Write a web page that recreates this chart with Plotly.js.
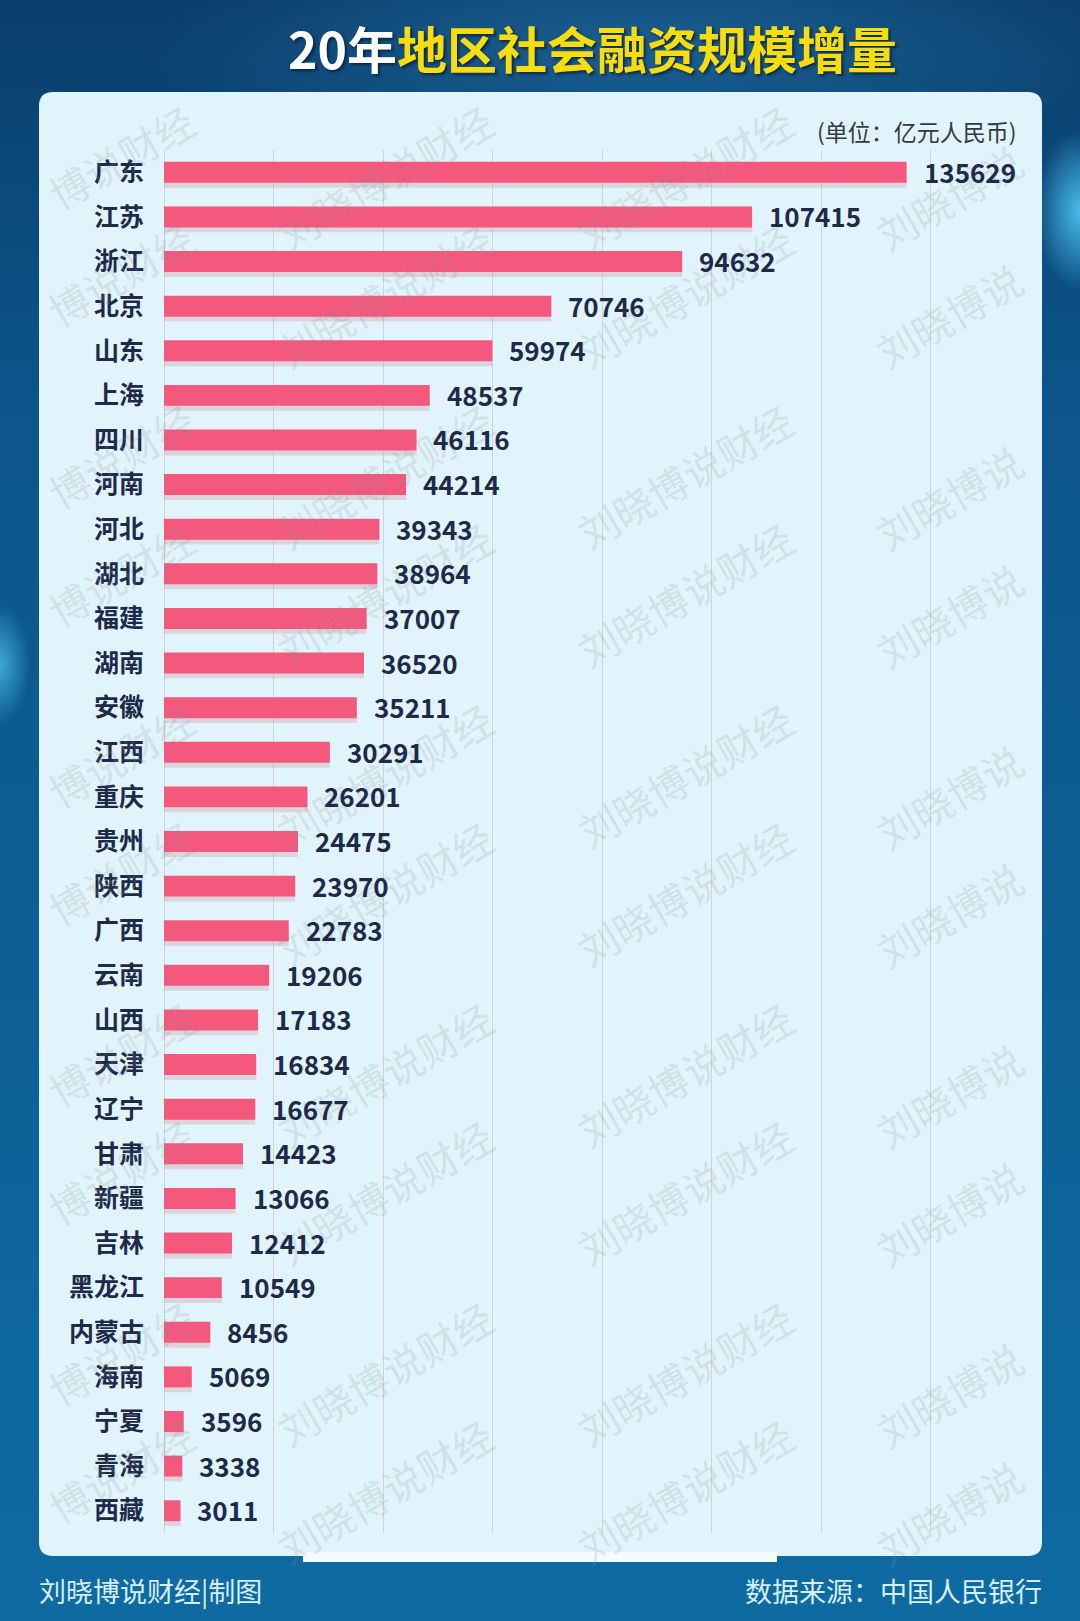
<!DOCTYPE html>
<html>
<head>
<meta charset="utf-8">
<script src="https://cdn.plot.ly/plotly-3.0.1.min.js"></script>
<style>
  html, body { margin: 0; padding: 0; }
  body {
    width: 1080px; height: 1621px; overflow: hidden;
    background:
      radial-gradient(ellipse 45px 80px at 100% 13%, rgba(80,200,245,0.9), rgba(80,200,245,0) 100%),
      radial-gradient(ellipse 30px 60px at 0% 41%, rgba(80,200,245,0.7), rgba(80,200,245,0) 100%),
      radial-gradient(ellipse 500px 120px at 60% 3%, rgba(40,120,175,0.55), rgba(40,120,175,0) 100%),
      linear-gradient(180deg, #0a3f6c 0%, #0c558a 25%, #0d6095 60%, #0e6ba2 100%);
  }
  #chart { width: 1080px; height: 1621px; }
</style>
</head>
<body>
<div id="chart"></div>
<script>
// ---------------- data ----------------
const regions = ['广东','江苏','浙江','北京','山东','上海','四川','河南','河北','湖北','福建','湖南','安徽','江西','重庆','贵州','陕西','广西','云南','山西','天津','辽宁','甘肃','新疆','吉林','黑龙江','内蒙古','海南','宁夏','青海','西藏'];
const values = [135629,107415,94632,70746,59974,48537,46116,44214,39343,38964,37007,36520,35211,30291,26201,24475,23970,22783,19206,17183,16834,16677,14423,13066,12412,10549,8456,5069,3596,3338,3011];
const gridTicks = [0,20000,40000,60000,80000,100000,120000,140000];
const titleWhite = '20年';
const titleYellow = '地区社会融资规模增量';
const unitText = '(单位：亿元人民币)';
const creditText = '刘晓博说财经|制图';
const sourceText = '数据来源：中国人民银行';
const watermarkText = '刘晓博说财经';

// ---------------- geometry helpers ----------------
const W = 1080, H = 1621;
const M = {l: 164, r: 40, t: 150, b: 88};
const PW = W - M.l - M.r, PH = H - M.t - M.b;
const px = x => (x - M.l) / PW;          // pixel x -> paper x
const py = y => (H - M.b - y) / PH;      // pixel y -> paper y

function roundRect(x0, y0, x1, y1, r) {
  const P = (x, y) => px(x).toFixed(5) + ',' + py(y).toFixed(5);
  return 'M' + P(x0 + r, y0) + ' L' + P(x1 - r, y0) + ' Q' + P(x1, y0) + ' ' + P(x1, y0 + r) +
         ' L' + P(x1, y1 - r) + ' Q' + P(x1, y1) + ' ' + P(x1 - r, y1) +
         ' L' + P(x0 + r, y1) + ' Q' + P(x0, y1) + ' ' + P(x0, y1 - r) +
         ' L' + P(x0, y0 + r) + ' Q' + P(x0, y0) + ' ' + P(x0 + r, y0) + ' Z';
}

const FONT = '"Noto Sans CJK SC", "Noto Sans", sans-serif';
const NAVY = '#1d2a4a';

// ---------------- traces ----------------
const shadow = {
  type: 'bar', orientation: 'h', y: regions, x: values,
  width: 0.47, offset: -0.235 + 0.11,
  marker: {color: 'rgba(205,165,180,0.40)', line: {width: 0}},
  hoverinfo: 'skip', showlegend: false
};
const bars = {
  type: 'bar', orientation: 'h', y: regions, x: values,
  width: 0.47, offset: -0.235,
  marker: {color: '#f4587d', line: {width: 0}},
  hoverinfo: 'x+y', showlegend: false
};

// ---------------- annotations ----------------
const annotations = [];

// watermarks (tiled in pairs of rows)
const wmCols = [85, 385, 685, 985];
const wmRows = [];
for (let k = 0; k <= 4; k++) { wmRows.push(177 + 299 * k); wmRows.push(295 + 299 * k); }
const ang = 30 * Math.PI / 180, charW = 41;
wmRows.forEach(cy => {
  wmCols.forEach((cx, ci) => {
    let text = watermarkText, x = cx, y = cy;
    if (ci === 0) { text = watermarkText.slice(2); x += charW * Math.cos(ang); y -= charW * Math.sin(ang); }
    if (ci === 3) { text = watermarkText.slice(0, 4); x -= charW * Math.cos(ang); y += charW * Math.sin(ang); }
    annotations.push({
      xref: 'paper', yref: 'paper', x: px(x), y: py(y), xanchor: 'center', yanchor: 'middle',
      text: text, textangle: -30, showarrow: false,
      font: {family: FONT, size: 40, color: 'rgba(140,145,150,0.2)'}
    });
  });
});

// value labels
regions.forEach((r, i) => {
  annotations.push({
    xref: 'x', yref: 'y', x: values[i], y: r, xanchor: 'left', yanchor: 'middle',
    xshift: 15, yshift: 1, text: String(values[i]), showarrow: false,
    font: {family: FONT, size: 26, color: NAVY, weight: 'bold'}
  });
});

// title
annotations.push({
  xref: 'paper', yref: 'paper', x: px(592), y: py(47), xanchor: 'center', yanchor: 'middle',
  text: '<span style="color:#ffffff">' + titleWhite + '</span>' + titleYellow,
  showarrow: false,
  font: {family: FONT, size: 50, color: '#f7dc0e', weight: 'bold', shadow: '2px 2px 3px rgba(10,30,60,0.85)'}
});
// unit
annotations.push({
  xref: 'paper', yref: 'paper', x: px(1019), y: py(131), xanchor: 'right', yanchor: 'middle',
  text: unitText, showarrow: false,
  font: {family: FONT, size: 23, color: '#333a44'}
});
// footer
annotations.push({
  xref: 'paper', yref: 'paper', x: px(37), y: py(1590), xanchor: 'left', yanchor: 'middle',
  text: creditText, showarrow: false,
  font: {family: FONT, size: 27, color: '#d6eef8'}
});
annotations.push({
  xref: 'paper', yref: 'paper', x: px(1044), y: py(1590), xanchor: 'right', yanchor: 'middle',
  text: sourceText, showarrow: false,
  font: {family: FONT, size: 27, color: '#d6eef8'}
});

// ---------------- shapes ----------------
const shapes = [
  {type: 'path', xref: 'paper', yref: 'paper', layer: 'below',
   path: roundRect(39, 92, 1042, 1556, 14),
   fillcolor: '#e2f4fb', line: {width: 0}},
  {type: 'rect', xref: 'paper', yref: 'paper', layer: 'below',
   x0: px(303), x1: px(777), y0: py(1552), y1: py(1562),
   fillcolor: '#f4fbfe', line: {width: 0}}
];

const layout = {
  width: W, height: H,
  margin: M,
  paper_bgcolor: 'rgba(0,0,0,0)',
  plot_bgcolor: 'rgba(0,0,0,0)',
  barmode: 'overlay',
  showlegend: false,
  font: {family: FONT},
  xaxis: {
    range: [0, 160000], tickvals: gridTicks, showticklabels: false,
    showgrid: true, gridcolor: '#d0d3d6', gridwidth: 1,
    zeroline: true, zerolinecolor: '#d0d3d6', zerolinewidth: 1,
    showline: false, ticks: '', fixedrange: true
  },
  yaxis: {
    type: 'category', autorange: 'reversed',
    tickfont: {family: FONT, size: 25, color: NAVY, weight: 'bold'},
    ticks: '', ticklabelstandoff: 19, showgrid: false, zeroline: false, showline: false,
    fixedrange: true
  },
  shapes: shapes,
  annotations: annotations
};

Plotly.newPlot('chart', [shadow, bars], layout, {displayModeBar: false, staticPlot: true});
</script>
</body>
</html>
